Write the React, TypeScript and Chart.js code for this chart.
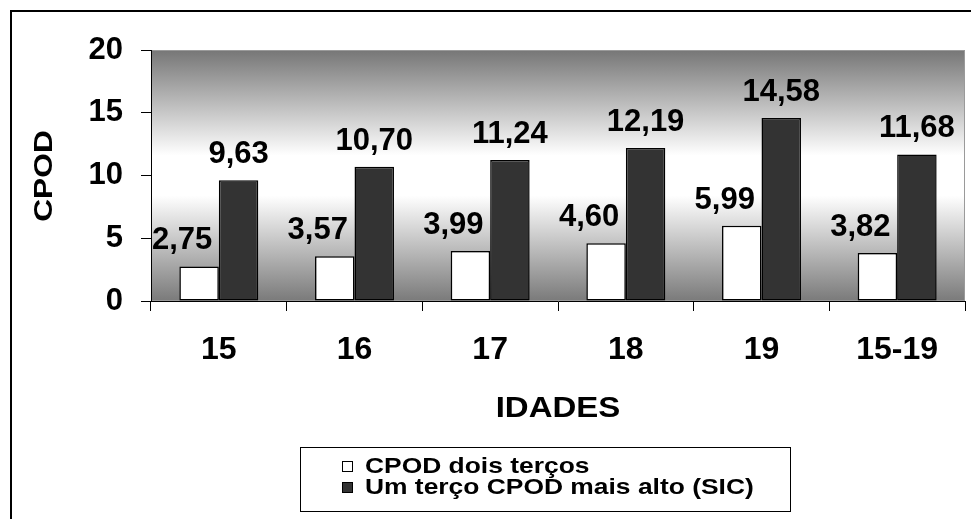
import React, { useEffect, useRef } from 'react';
import { Chart, registerables } from 'chart.js';

Chart.register(...registerables);

const categories = ['15', '16', '17', '18', '19', '15-19'];
const cpodDoisTercos = [2.75, 3.57, 3.99, 4.6, 5.99, 3.82];
const umTercoSic = [9.63, 10.7, 11.24, 12.19, 14.58, 11.68];
const seriesNames = ['CPOD dois terços', 'Um terço CPOD mais alto (SIC)'];
const seriesColors = ['#ffffff', '#333333'];
const yTicks = [0, 5, 10, 15, 20];
const xTitle = 'IDADES';
const yTitle = 'CPOD';

const FONT = '"Liberation Sans", Arial, Helvetica, sans-serif';

const fmt = (v: number) => v.toFixed(2).replace('.', ',');

const decor = {
  id: 'decor',
  beforeDraw(chart: any) {
    const { ctx, chartArea: a, width, height } = chart;
    ctx.save();
    ctx.fillStyle = '#ffffff';
    ctx.fillRect(0, 0, width, height);
    // outer frame
    ctx.strokeStyle = '#000';
    ctx.lineWidth = 2;
    ctx.strokeRect(11, 11, width + 20, height + 20);
    // plot area gradient
    const g = ctx.createLinearGradient(0, a.top, 0, a.bottom);
    g.addColorStop(0, '#767676');
    g.addColorStop(0.42, '#ffffff');
    g.addColorStop(0.58, '#ffffff');
    g.addColorStop(1, '#7a7a7a');
    ctx.fillStyle = g;
    ctx.fillRect(a.left, a.top, a.right - a.left, a.bottom - a.top);
    ctx.strokeStyle = '#9a9a9a';
    ctx.lineWidth = 1;
    ctx.strokeRect(a.left + 0.5, a.top + 0.5, a.right - a.left - 1, a.bottom - a.top - 1);
    ctx.restore();
  },
  afterDatasetsDraw(chart: any) {
    const { ctx } = chart;
    ctx.save();
    ctx.fillStyle = '#000';
    ctx.font = `bold 31px ${FONT}`;
    ctx.textAlign = 'center';
    ctx.textBaseline = 'alphabetic';
    chart.data.datasets.forEach((ds: any, di: number) => {
      const meta = chart.getDatasetMeta(di);
      meta.data.forEach((el: any, i: number) => {
        const dx = di === 0 ? -17 : 0;
        ctx.fillText(fmt(ds.data[i]), el.x + dx, el.y - 17);
      });
    });
    ctx.restore();
  },
  afterDraw(chart: any) {
    const { ctx, chartArea: a } = chart;
    ctx.save();
    ctx.fillStyle = '#000';
    // x title
    ctx.font = `bold 30px ${FONT}`;
    ctx.textAlign = 'center';
    ctx.textBaseline = 'alphabetic';
    ctx.save();
    ctx.translate((a.left + a.right) / 2, 417);
    ctx.scale(1.1, 1);
    ctx.fillText(xTitle, 0, 0);
    ctx.restore();
    // y title
    ctx.save();
    ctx.translate(45, 176);
    ctx.rotate(-Math.PI / 2);
    ctx.scale(1.27, 1);
    ctx.font = `bold 25px ${FONT}`;
    ctx.textBaseline = 'middle';
    ctx.fillText(yTitle, 0, 0);
    ctx.restore();
    // legend
    const bx = 300, by = 447, bw = 490, bh = 64;
    ctx.strokeStyle = '#000';
    ctx.lineWidth = 1;
    ctx.strokeRect(bx + 0.5, by + 0.5, bw, bh);
    const rows = [473, 494];
    seriesNames.forEach((name, i) => {
      const sy = rows[i] - 12;
      ctx.fillStyle = seriesColors[i];
      ctx.fillRect(342, sy, 11, 11);
      ctx.strokeStyle = '#000';
      ctx.lineWidth = 1;
      ctx.strokeRect(342.5, sy + 0.5, 10, 10);
      ctx.save();
      ctx.translate(365, rows[i]);
      ctx.scale(1.2, 1);
      ctx.fillStyle = '#000';
      ctx.font = `bold 22px ${FONT}`;
      ctx.textAlign = 'left';
      ctx.textBaseline = 'alphabetic';
      ctx.fillText(name, 0, 0);
      ctx.restore();
    });
    ctx.restore();
  },
};

export default function App() {
  const ref = useRef<HTMLCanvasElement>(null);
  useEffect(() => {
    if (!ref.current) return;
    const chart = new Chart(ref.current, {
      type: 'bar',
      data: {
        labels: categories,
        datasets: [
          {
            label: seriesNames[0],
            data: cpodDoisTercos,
            backgroundColor: seriesColors[0],
            borderColor: '#000',
            borderWidth: 1.5,
            borderSkipped: false,
            categoryPercentage: 0.582,
            barPercentage: 1,
          },
          {
            label: seriesNames[1],
            data: umTercoSic,
            backgroundColor: seriesColors[1],
            borderColor: '#000',
            borderWidth: 1.5,
            borderSkipped: false,
            categoryPercentage: 0.582,
            barPercentage: 1,
          },
        ],
      },
      options: {
        responsive: false,
        devicePixelRatio: 1,
        animation: false,
        layout: { padding: { left: 0, top: 50, right: 6, bottom: 0 } },
        plugins: {
          legend: { display: false },
          tooltip: { enabled: false },
          title: { display: false },
        },
        scales: {
          x: {
            grid: {
              offset: true,
              drawOnChartArea: false,
              drawTicks: true,
              tickLength: 10,
              color: '#000',
              lineWidth: 1,
            },
            border: { display: true, color: '#000', width: 1 },
            ticks: {
              color: '#000',
              font: { family: FONT, size: 32, weight: 'bold' },
              padding: 20,
              autoSkip: false,
              maxRotation: 0,
            },
            afterFit: (s: any) => {
              s.height = 218;
            },
          },
          y: {
            min: 0,
            max: 20,
            grid: {
              drawOnChartArea: false,
              drawTicks: true,
              tickLength: 10,
              color: '#000',
              lineWidth: 1,
            },
            border: { display: true, color: '#000', width: 1 },
            ticks: {
              color: '#000',
              font: { family: FONT, size: 31, weight: 'bold' },
              padding: 18,
              stepSize: 5,
            },
            afterBuildTicks: (s: any) => {
              s.ticks = yTicks.map((v) => ({ value: v }));
            },
            afterFit: (s: any) => {
              s.width = 151;
            },
          },
        },
      } as any,
      plugins: [decor],
    });
    return () => chart.destroy();
  }, []);
  return (
    <div style={{ position: 'fixed', left: 0, top: 0, width: 971, height: 519, background: '#fff' }}>
      <canvas ref={ref} width={971} height={519} style={{ display: 'block', width: 971, height: 519 }} />
    </div>
  );
}
